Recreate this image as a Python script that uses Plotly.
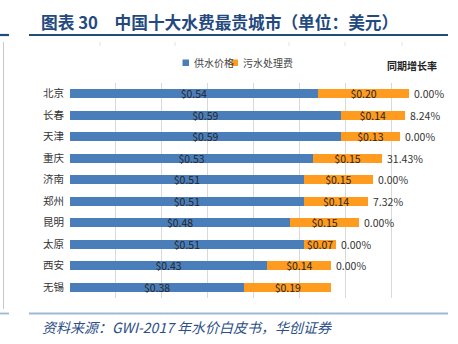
import plotly.graph_objects as go

# City water tariff data (USD per cubic metre)
cities = ["北京", "长春", "天津", "重庆", "济南", "郑州", "昆明", "太原", "西安", "无锡"]
supply_price = [0.54, 0.59, 0.59, 0.53, 0.51, 0.51, 0.48, 0.51, 0.43, 0.38]
sewage_fee = [0.20, 0.14, 0.13, 0.15, 0.15, 0.14, 0.15, 0.07, 0.14, 0.19]
growth_rate = ["0.00%", "8.24%", "0.00%", "31.43%", "0.00%", "7.32%", "0.00%", "0.00%", "0.00%", ""]

series_names = ["供水价格", "污水处理费"]
title_text = "图表 30　中国十大水费最贵城市（单位：美元）"
source_text = "资料来源：GWI-2017 年水价白皮书，华创证券"
growth_header = "同期增长率"

W, H = 458, 344
L, R, T, B = 70, 437, 83, 298

BLUE = "#4A7EBB"
ORANGE = "#FF9B1E"
CJK = "Noto Sans CJK SC"


def px(x):
    return (x - L) / (R - L)


def py(y):
    return (B - y) / (B - T)


fig = go.Figure()
for name, vals, color in [(series_names[0], supply_price, BLUE),
                          (series_names[1], sewage_fee, ORANGE)]:
    fig.add_trace(go.Bar(
        y=cities, x=vals, name=name, orientation="h",
        marker=dict(color=color, line=dict(width=0)),
        text=[f"${v:.2f}" for v in vals],
        textposition="inside", insidetextanchor="middle",
        constraintext="none", cliponaxis=False,
        textfont=dict(family=CJK, size=10.5, color="#262626"),
        showlegend=False,
    ))

annotations = []
# growth rate labels at the end of each stacked bar
for c, s, w, g in zip(cities, supply_price, sewage_fee, growth_rate):
    if g:
        annotations.append(dict(
            x=s + w, y=c, xref="x", yref="y", text=g, showarrow=False,
            xanchor="left", xshift=3,
            font=dict(family=CJK, size=10.5, color="#333333")))

annotations.append(dict(
    x=px(385), y=py(65), xref="paper", yref="paper", text=growth_header,
    showarrow=False, xanchor="left", yanchor="middle",
    font=dict(family=CJK, size=10, color="#222222", weight="bold")))

# legend drawn as swatches + labels
shapes = []
legend_items = [(series_names[0], BLUE, 182.5), (series_names[1], ORANGE, 231.5)]
for name, color, x0 in legend_items:
    shapes.append(dict(type="rect", xref="paper", yref="paper",
                       x0=px(x0), x1=px(x0 + 6.5), y0=py(59.5), y1=py(66),
                       fillcolor=color, line=dict(width=0)))
    annotations.append(dict(
        x=px(x0 + 9), y=py(62.7), xref="paper", yref="paper", text=name,
        showarrow=False, xanchor="left", yanchor="middle",
        font=dict(family=CJK, size=10, color="#444444")))

# title and source
annotations.append(dict(
    x=px(39), y=py(22), xref="paper", yref="paper", text=title_text,
    showarrow=False, xanchor="left", yanchor="middle",
    font=dict(family=CJK, size=16.7, color="#23497E", weight="bold")))
annotations.append(dict(
    x=px(40), y=py(327), xref="paper", yref="paper", text=f"<i>{source_text}</i>",
    showarrow=False, xanchor="left", yanchor="middle",
    font=dict(family=CJK, size=14, color="#2B4F86")))

# header and footer rules
for yv, color, wd in [(35, "#1F4E79", 2.2), (313.5, "#9DB9D3", 1.8)]:
    for x0, x1 in [(0, 9), (29, 448)]:
        shapes.append(dict(type="line", xref="paper", yref="paper",
                           x0=px(x0), x1=px(x1), y0=py(yv), y1=py(yv),
                           line=dict(color=color, width=wd)))

# frame edge on the left
shapes.append(dict(type="line", xref="paper", yref="paper",
                   x0=px(3.5), x1=px(3.5), y0=py(42), y1=py(309),
                   line=dict(color="#C8C8C8", width=1)))
for xt in [100, 175, 289, 345, 402]:
    shapes.append(dict(type="line", xref="paper", yref="paper",
                       x0=px(xt), x1=px(xt), y0=py(42), y1=py(46),
                       line=dict(color="#E2E2E2", width=1)))

fig.update_layout(
    width=W, height=H,
    margin=dict(l=L, r=W - R, t=T, b=H - B),
    barmode="stack", bargap=0.6,
    plot_bgcolor="white", paper_bgcolor="white",
    annotations=annotations, shapes=shapes,
    showlegend=False,
    xaxis=dict(range=[0, 0.8], dtick=0.1, showticklabels=False,
               showgrid=True, gridcolor="#D9D9D9", gridwidth=1,
               zeroline=False, showline=False, fixedrange=True),
    yaxis=dict(categoryorder="array", categoryarray=cities,
               autorange="reversed", showgrid=False, zeroline=False,
               ticks="", ticklabelstandoff=5,
               tickfont=dict(family=CJK, size=10.5, color="#333333")),
    font=dict(family=CJK),
)

fig.write_html("out.html")
